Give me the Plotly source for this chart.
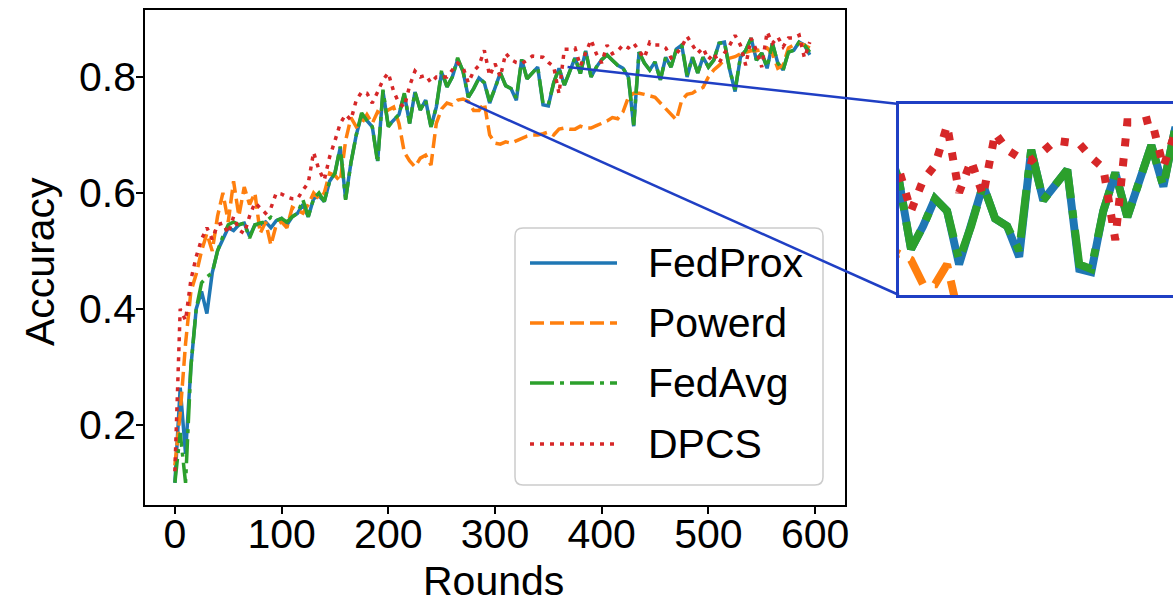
import plotly.graph_objects as go

# ---------------- data ----------------
rounds = list(range(0, 600, 5))

fedprox = [
    0.100, 0.264, 0.150, 0.300, 0.400, 0.430, 0.392, 0.462, 0.500, 0.520,
    0.540, 0.535, 0.545, 0.548, 0.525, 0.545, 0.545, 0.550, 0.540, 0.552,
    0.556, 0.545, 0.559, 0.565, 0.580, 0.559, 0.590, 0.595, 0.585, 0.620,
    0.634, 0.678, 0.590, 0.652, 0.700, 0.735, 0.725, 0.714, 0.655, 0.775,
    0.716, 0.726, 0.735, 0.770, 0.720, 0.774, 0.743, 0.760, 0.714, 0.748,
    0.808, 0.783, 0.800, 0.830, 0.810, 0.765, 0.780, 0.798, 0.790, 0.755,
    0.780, 0.807, 0.785, 0.780, 0.760, 0.830, 0.797, 0.807, 0.817, 0.752,
    0.750, 0.790, 0.815, 0.786, 0.810, 0.833, 0.806, 0.845, 0.800, 0.817,
    0.830, 0.838, 0.829, 0.820, 0.815, 0.800, 0.715, 0.843, 0.824, 0.812,
    0.826, 0.795, 0.834, 0.817, 0.848, 0.855, 0.800, 0.834, 0.807, 0.834,
    0.817, 0.829, 0.858, 0.860, 0.812, 0.775, 0.834, 0.846, 0.867, 0.829,
    0.841, 0.815, 0.858, 0.824, 0.812, 0.843, 0.846, 0.860, 0.855, 0.838,
]

powerd = [
    0.130, 0.220, 0.340, 0.430, 0.460, 0.500, 0.530, 0.500, 0.560, 0.600,
    0.550, 0.620, 0.560, 0.610, 0.580, 0.600, 0.530, 0.550, 0.510, 0.545,
    0.550, 0.540, 0.575, 0.570, 0.565, 0.580, 0.600, 0.590, 0.600, 0.634,
    0.630, 0.620, 0.690, 0.730, 0.714, 0.720, 0.735, 0.720, 0.740, 0.735,
    0.743, 0.748, 0.720, 0.670, 0.655, 0.645, 0.660, 0.665, 0.648, 0.720,
    0.745, 0.755, 0.752, 0.760, 0.762, 0.758, 0.742, 0.742, 0.755, 0.700,
    0.686, 0.684, 0.688, 0.686, 0.690, 0.695, 0.698, 0.700, 0.700, 0.702,
    0.705, 0.700, 0.710, 0.712, 0.710, 0.710, 0.715, 0.712, 0.712, 0.716,
    0.720, 0.724, 0.730, 0.728, 0.740, 0.765, 0.772, 0.772, 0.770, 0.768,
    0.765, 0.755, 0.745, 0.735, 0.726, 0.760, 0.770, 0.772, 0.778, 0.782,
    0.800, 0.812, 0.820, 0.830, 0.833, 0.835, 0.840, 0.842, 0.845, 0.845,
    0.848, 0.850, 0.840, 0.815, 0.820, 0.850, 0.855, 0.858, 0.855, 0.850,
]

fedavg = [
    0.100, 0.186, 0.100, 0.300, 0.400, 0.445, 0.455, 0.462, 0.500, 0.525,
    0.545, 0.550, 0.545, 0.548, 0.522, 0.545, 0.548, 0.550, 0.558, 0.552,
    0.556, 0.550, 0.559, 0.565, 0.588, 0.559, 0.590, 0.600, 0.585, 0.620,
    0.634, 0.680, 0.588, 0.652, 0.700, 0.738, 0.725, 0.714, 0.652, 0.778,
    0.714, 0.726, 0.735, 0.772, 0.720, 0.774, 0.743, 0.760, 0.714, 0.748,
    0.812, 0.783, 0.800, 0.833, 0.810, 0.765, 0.780, 0.798, 0.790, 0.758,
    0.780, 0.807, 0.785, 0.780, 0.764, 0.830, 0.797, 0.807, 0.817, 0.755,
    0.752, 0.790, 0.815, 0.786, 0.810, 0.833, 0.806, 0.845, 0.800, 0.817,
    0.830, 0.838, 0.829, 0.820, 0.815, 0.800, 0.717, 0.843, 0.824, 0.812,
    0.826, 0.795, 0.834, 0.817, 0.848, 0.855, 0.803, 0.834, 0.807, 0.834,
    0.817, 0.829, 0.858, 0.860, 0.812, 0.778, 0.834, 0.846, 0.867, 0.829,
    0.841, 0.817, 0.858, 0.824, 0.812, 0.843, 0.846, 0.860, 0.855, 0.843,
]

dpcs = [
    0.120, 0.400, 0.380, 0.450, 0.490, 0.520, 0.540, 0.520, 0.545, 0.548,
    0.530, 0.559, 0.536, 0.530, 0.560, 0.583, 0.574, 0.565, 0.574, 0.600,
    0.598, 0.593, 0.590, 0.590, 0.605, 0.617, 0.670, 0.640, 0.622, 0.662,
    0.690, 0.720, 0.735, 0.726, 0.760, 0.774, 0.772, 0.755, 0.774, 0.795,
    0.807, 0.775, 0.755, 0.748, 0.785, 0.810, 0.800, 0.803, 0.790, 0.800,
    0.800, 0.800, 0.812, 0.824, 0.817, 0.790, 0.810, 0.820, 0.846, 0.802,
    0.823, 0.800, 0.841, 0.830, 0.825, 0.823, 0.829, 0.836, 0.835, 0.834,
    0.825, 0.818, 0.771, 0.848, 0.848, 0.850, 0.819, 0.840, 0.864, 0.840,
    0.824, 0.855, 0.840, 0.845, 0.855, 0.850, 0.858, 0.845, 0.833, 0.860,
    0.855, 0.855, 0.850, 0.833, 0.840, 0.852, 0.870, 0.855, 0.841, 0.850,
    0.830, 0.841, 0.824, 0.841, 0.855, 0.872, 0.855, 0.820, 0.867, 0.846,
    0.817, 0.878, 0.858, 0.869, 0.852, 0.867, 0.867, 0.872, 0.833, 0.860,
]

series_names = ["FedProx", "Powerd", "FedAvg", "DPCS"]
x_ticks = [0, 100, 200, 300, 400, 500, 600]
y_ticks = [0.2, 0.4, 0.6, 0.8]
x_title = "Rounds"
y_title = "Accuracy"

# ---------------- styles ----------------
colors = ["#1f77b4", "#ff7f0e", "#2ca02c", "#d62728"]
main_dash = ["solid", "14px,6px", "24px,6px,4px,6px", "4px,6px"]
inset_dash = ["solid", "28px,12px", "48px,12px,8px,12px", "8px,12px"]
FONT = "Liberation Sans, Arial, sans-serif"
FS = 41
INSET_BLUE = "#1f3fc4"

W, H = 1173, 605
ML, MR, MT, MB = 145, 0, 10, 100
PW, PH = W - ML - MR, H - MT - MB


def pxx(px):
    return (px - ML) / PW


def pyy(py):
    return 1 - (py - MT) / PH


main_x_dom = [0, pxx(845)]
ins_x_dom = [pxx(899), 1.0]
ins_y_dom = [pyy(295), pyy(104)]
X_RANGE = [-28, 628]
Y_RANGE = [0.0617, 0.9155]
INS_X = [270, 384]
INS_Y = [0.735, 0.86]


def data_to_paper(x, y):
    xp = main_x_dom[0] + (x - X_RANGE[0]) / (X_RANGE[1] - X_RANGE[0]) * (main_x_dom[1] - main_x_dom[0])
    yp = (y - Y_RANGE[0]) / (Y_RANGE[1] - Y_RANGE[0])
    return xp, yp


fig = go.Figure()
all_series = [fedprox, powerd, fedavg, dpcs]
for name, vals, c, d in zip(series_names, all_series, colors, main_dash):
    fig.add_trace(go.Scatter(x=rounds, y=vals, mode="lines", name=name,
                             line=dict(color=c, width=3.5, dash=d),
                             xaxis="x", yaxis="y", showlegend=False))
for name, vals, c, d in zip(series_names, all_series, colors, inset_dash):
    fig.add_trace(go.Scatter(x=rounds, y=vals, mode="lines", name=name,
                             line=dict(color=c, width=8, dash=d),
                             xaxis="x2", yaxis="y2", showlegend=False))

axis_font = dict(family=FONT, size=FS, color="black")
fig.update_layout(
    width=W, height=H,
    margin=dict(l=ML, r=MR, t=MT, b=MB, autoexpand=False),
    paper_bgcolor="white", plot_bgcolor="white",
    font=dict(family=FONT, color="black"),
    xaxis=dict(domain=main_x_dom, anchor="y", range=X_RANGE, automargin=False,
               tickvals=x_ticks, ticks="outside", ticklen=7, tickwidth=1.5,
               tickcolor="black", tickfont=axis_font, ticklabelstandoff=-15,
               showline=True, mirror=True, linecolor="black", linewidth=1.5,
               showgrid=False, zeroline=False),
    yaxis=dict(domain=[0, 1], anchor="x", range=Y_RANGE, automargin=False,
               tickvals=y_ticks, ticktext=[f"{v:.1f}" for v in y_ticks],
               ticks="outside", ticklen=7, tickwidth=1.5, ticklabelstandoff=-8,
               tickcolor="black", tickfont=axis_font,
               showline=True, mirror=True, linecolor="black", linewidth=1.5,
               showgrid=False, zeroline=False),
    xaxis2=dict(domain=ins_x_dom, anchor="y2", range=INS_X, automargin=False,
                showticklabels=False, ticks="", showgrid=False, zeroline=False,
                showline=True, mirror=True, linecolor=INSET_BLUE, linewidth=2.5),
    yaxis2=dict(domain=ins_y_dom, anchor="x2", range=INS_Y, automargin=False,
                showticklabels=False, ticks="", showgrid=False, zeroline=False,
                showline=True, mirror=False, linecolor=INSET_BLUE, linewidth=2.5),
)

shapes = []
annotations = []
# axis titles
annotations.append(dict(text=x_title, x=pxx(493), y=pyy(581), xref="paper", yref="paper",
                        xanchor="center", yanchor="middle", showarrow=False, font=axis_font))
annotations.append(dict(text=y_title, x=pxx(40), y=pyy(262), xref="paper", yref="paper",
                        xanchor="center", yanchor="middle", showarrow=False, textangle=-90,
                        font=axis_font))

# custom legend frame (rounded)
lx0, lx1, ly0, ly1 = pxx(515), pxx(823), pyy(485), pyy(228)
rx, ry = 8 / PW, 8 / PH
path = (f"M {lx0+rx},{ly1} L {lx1-rx},{ly1} Q {lx1},{ly1} {lx1},{ly1-ry} "
        f"L {lx1},{ly0+ry} Q {lx1},{ly0} {lx1-rx},{ly0} L {lx0+rx},{ly0} "
        f"Q {lx0},{ly0} {lx0},{ly0+ry} L {lx0},{ly1-ry} Q {lx0},{ly1} {lx0+rx},{ly1} Z")
shapes.append(dict(type="path", path=path, xref="paper", yref="paper",
                   fillcolor="rgba(255,255,255,0.8)",
                   line=dict(color="#cccccc", width=1.5), layer="above"))
legend_y_px = [263, 323, 383, 444]
for name, c, d, ypx in zip(series_names, colors, main_dash, legend_y_px):
    shapes.append(dict(type="line", xref="paper", yref="paper",
                       x0=pxx(530), x1=pxx(617), y0=pyy(ypx), y1=pyy(ypx),
                       line=dict(color=c, width=3.5, dash=d), layer="above"))
    annotations.append(dict(text=name, x=pxx(646), y=pyy(ypx), xref="paper", yref="paper",
                            xanchor="left", yanchor="middle", showarrow=False,
                            font=axis_font))

# connector lines from the zoomed region to the inset
p1 = data_to_paper(272, 0.759)
p2 = data_to_paper(368, 0.817)
shapes.append(dict(type="line", xref="paper", yref="paper",
                   x0=p1[0], y0=p1[1], x1=ins_x_dom[0], y1=ins_y_dom[0],
                   line=dict(color=INSET_BLUE, width=2.5), layer="above"))
shapes.append(dict(type="line", xref="paper", yref="paper",
                   x0=p2[0], y0=p2[1], x1=ins_x_dom[0], y1=ins_y_dom[1],
                   line=dict(color=INSET_BLUE, width=2.5), layer="above"))

fig.update_layout(shapes=shapes, annotations=annotations)
fig.write_html("out.html", config={"displayModeBar": False},
               post_script="document.body.style.margin='0';document.body.style.overflow='hidden';")
